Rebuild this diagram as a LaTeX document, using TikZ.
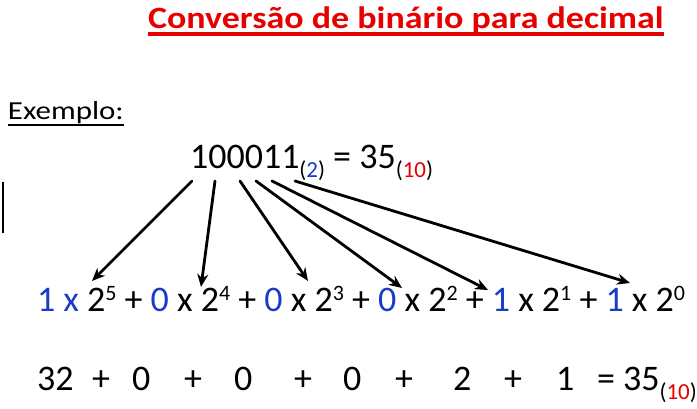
\documentclass[tikz,border=0pt]{standalone}
\usepackage{fontspec}
\setmainfont{Carlito}
\usetikzlibrary{arrows.meta}
\definecolor{titlered}{RGB}{230,0,0}
\definecolor{bitblue}{RGB}{25,60,200}
\newcommand{\bb}[1]{\textcolor{bitblue}{#1}}
\newcommand{\pw}[1]{\raisebox{11pt}{\fontsize{22}{22}\selectfont #1}}
\newcommand{\base}[2]{\raisebox{-9pt}{\fontsize{23}{23}\selectfont(\textcolor{#1}{#2})}}
\begin{document}
\begin{tikzpicture}[x=1pt, y=-1pt, line join=round, line cap=round, >={Stealth[length=13pt,width=11pt]},
	every node/.style={inner sep=0pt, outer sep=0pt, anchor=base west}]
	\useasboundingbox (0,0) rectangle (697,409);
	\def\big{\fontsize{36}{40}\selectfont}
	% title
	\node[font=\fontsize{31}{36}\selectfont\bfseries, text=titlered] (title) at (148,29) {\scalebox{1.16}[1]{Convers\~ao de bin\'ario para decimal}};
	\draw[titlered, line width=3.5pt, line cap=butt] ([yshift=-5pt]title.base west) -- ([yshift=-5pt]title.base east);
	\node[font=\fontsize{26}{30}\selectfont] (ex) at (8,120) {\scalebox{1.19}[1]{Exemplo:}};
	\draw[line width=1.5pt, line cap=butt] ([yshift=-5pt]ex.base west) -- ([yshift=-5pt]ex.base east);
	\draw[line width=1.5pt, line cap=butt] (3,182) coordinate (cur) -- (3,233);
	% number
	\node[font=\big] (num) at (190,169) {100011\base{bitblue}{2} = 35\base{titlered}{10}};
	% sum of powers
	\node[font=\big] (sum) at (37,312) {\bb{1 x} 2\pw{5} + \bb{0} x 2\pw{4} + \bb{0} x 2\pw{3} + \bb{0} x 2\pw{2} + \bb{1} x 2\pw{1} + \bb{1} x 2\pw{0}};
	% values
	\foreach \t/\x [count=\i] in {32/37, +/92, 0/132, +/184, 0/234, +/294, 0/343, +/395, 2/453, +/504, 1/556}
		\node[font=\big] (v\i) at (\x,390) {\t};
	\node[font=\big] (res) at (597,390) {= 35\base{titlered}{10}};
	% arrows
	\foreach \n/\a/\b/\c in {5/192/92/281, 4/215/201/287, 3/240/308/281, 2/256/402/288, 1/272/488/290, 0/295/630/283}{
		\coordinate (s\n) at (\a,181);
		\coordinate (e\n) at (\b,\c);
	}
	\foreach \n in {5,...,0} \draw[->, line width=2.8pt] (s\n) -- (e\n);
\end{tikzpicture}
\end{document}
